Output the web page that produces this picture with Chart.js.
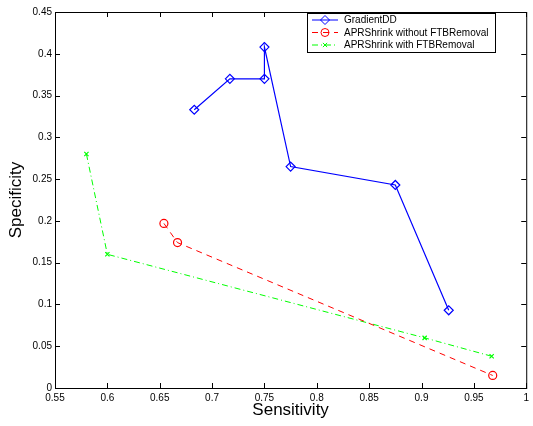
<!DOCTYPE html>
<html>
<head>
<meta charset="utf-8">
<script src="https://cdn.jsdelivr.net/npm/chart.js@4.4.0/dist/chart.umd.min.js"></script>
<style>
  html, body { margin: 0; padding: 0; background: #fff; }
  canvas { display: block; }
</style>
</head>
<body>
<canvas id="roc" width="533" height="426"></canvas>
<script>
const gradX = [0.683, 0.717, 0.75, 0.75, 0.775, 0.875, 0.926]
const gradY = [0.333, 0.370, 0.370, 0.408, 0.265, 0.243, 0.093]
const noFtbX = [0.654, 0.667, 0.968]
const noFtbY = [0.197, 0.174, 0.015]
const ftbX = [0.580, 0.600, 0.903, 0.967]
const ftbY = [0.280, 0.160, 0.060, 0.038]
const xTicks = [0.55, 0.6, 0.65, 0.7, 0.75, 0.8, 0.85, 0.9, 0.95, 1]
const yTicks = [0, 0.05, 0.1, 0.15, 0.2, 0.25, 0.3, 0.35, 0.4, 0.45]

const blue = '#0000ff'
const red = '#ff0000'
const green = '#00ff00'
const font = "'Liberation Sans', Arial, sans-serif"

const pts = (xs, ys) => xs.map((x, i) => ({x: x, y: ys[i]}))
const fmt = v => String(parseFloat(Number(v).toFixed(2)))

// matlab style box, inward ticks and legend
const matlabBox = {
  id: 'matlabBox',
  afterDraw(chart) {
    const {ctx, chartArea: a, scales} = chart
    ctx.save()
    ctx.strokeStyle = '#000'
    ctx.lineWidth = 1
    ctx.strokeRect(a.left + 0.5, a.top + 0.5, a.right - a.left, a.bottom - a.top)
    ctx.beginPath()
    xTicks.forEach(t => {
      const px = Math.round(scales.x.getPixelForValue(t)) + 0.5
      ctx.moveTo(px, a.bottom); ctx.lineTo(px, a.bottom - 5)
      ctx.moveTo(px, a.top); ctx.lineTo(px, a.top + 5)
    })
    yTicks.forEach(t => {
      const py = Math.round(scales.y.getPixelForValue(t)) + 0.5
      ctx.moveTo(a.left, py); ctx.lineTo(a.left + 5, py)
      ctx.moveTo(a.right, py); ctx.lineTo(a.right - 5, py)
    })
    ctx.stroke()

    // legend
    const lx = 307, ly = 13, lw = 188, lh = 39
    ctx.fillStyle = '#fff'
    ctx.fillRect(lx, ly, lw, lh)
    ctx.strokeRect(lx + 0.5, ly + 0.5, lw, lh)
    ctx.font = '10px ' + font
    ctx.textBaseline = 'middle'
    chart.data.datasets.forEach((ds, i) => {
      const y = ly + 7 + i * 12.5
      ctx.save()
      ctx.strokeStyle = ds.borderColor
      ctx.fillStyle = 'rgba(0,0,0,0)'
      ctx.lineWidth = 1
      ctx.setLineDash(ds.borderDash || [])
      ctx.beginPath(); ctx.moveTo(lx + 5, y); ctx.lineTo(lx + 31, y); ctx.stroke()
      ctx.setLineDash([])
      Chart.helpers.drawPoint(ctx, {
        pointStyle: ds.pointStyle, radius: ds.pointRadius, rotation: 0, borderWidth: 1
      }, lx + 18, y)
      ctx.restore()
      ctx.fillStyle = '#000'
      ctx.fillText(ds.label, lx + 37, y + 0.5)
    })
    ctx.restore()
  }
}

new Chart(document.getElementById('roc').getContext('2d'), {
  type: 'scatter',
  plugins: [matlabBox],
  data: {
    datasets: [
      {
        label: 'GradientDD',
        data: pts(gradX, gradY),
        showLine: true,
        borderColor: blue,
        backgroundColor: 'rgba(0,0,0,0)',
        borderWidth: 1.2,
        pointStyle: 'rectRot',
        pointRadius: 4.5,
        pointBorderWidth: 1.2
      },
      {
        label: 'APRShrink without FTBRemoval',
        data: pts(noFtbX, noFtbY),
        showLine: true,
        borderColor: red,
        backgroundColor: 'rgba(0,0,0,0)',
        borderWidth: 1,
        borderDash: [6, 5],
        pointStyle: 'circle',
        pointRadius: 4,
        pointBorderWidth: 1.2
      },
      {
        label: 'APRShrink with FTBRemoval',
        data: pts(ftbX, ftbY),
        showLine: true,
        borderColor: green,
        backgroundColor: 'rgba(0,0,0,0)',
        borderWidth: 1,
        borderDash: [6, 3, 1, 3],
        pointStyle: 'crossRot',
        pointRadius: 3,
        pointBorderWidth: 1.2
      }
    ]
  },
  options: {
    responsive: false,
    animation: false,
    layout: { autoPadding: false, padding: { top: 12, right: 0, bottom: 0, left: 0 } },
    plugins: {
      legend: { display: false },
      tooltip: { enabled: false }
    },
    scales: {
      x: {
        type: 'linear',
        min: 0.55,
        max: 1,
        afterBuildTicks: s => { s.ticks = xTicks.map(v => ({value: v})) },
        afterFit: s => { s.height = 38 },
        grid: { display: false, drawTicks: false },
        border: { display: true, color: '#000' },
        ticks: { padding: 4, color: '#000', maxRotation: 0, autoSkip: false,
                 font: { family: font, size: 10 }, callback: fmt },
        title: { display: true, text: 'Sensitivity', color: '#000',
                 font: { family: font, size: 17 }, padding: { top: 0, bottom: 5 } }
      },
      y: {
        type: 'linear',
        min: 0,
        max: 0.45,
        afterBuildTicks: s => { s.ticks = yTicks.map(v => ({value: v})) },
        afterFit: s => { s.width = 55 },
        grid: { display: false, drawTicks: false },
        border: { display: true, color: '#000' },
        ticks: { padding: 3, color: '#000', autoSkip: false,
                 font: { family: font, size: 10 }, callback: fmt },
        title: { display: true, text: 'Specificity', color: '#000',
                 font: { family: font, size: 17 }, padding: { top: 6, bottom: 0 } }
      }
    }
  }
})
</script>
</body>
</html>
